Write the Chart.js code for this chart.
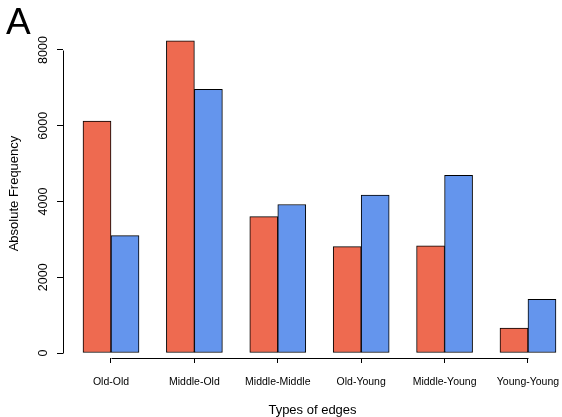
<!DOCTYPE html>
<html>
<head>
<meta charset="utf-8">
<script src="https://cdn.jsdelivr.net/npm/chart.js@4/dist/chart.umd.min.js"></script>
<style>
    body { margin: 0; background: #fff; }
    #wrap { position: relative; width: 562px; height: 417px; }
    #panel {
        position: absolute; left: 6px; top: 3px;
        font: 37px "Liberation Sans", Arial, sans-serif; line-height: 1; color: #000;
    }
</style>
</head>
<body>
<div id="wrap">
    <canvas id="chart" width="562" height="417"></canvas>
    <div id="panel">A</div>
</div>
<script>
let edgeTypes = ["Old-Old", "Middle-Old", "Middle-Middle", "Old-Young", "Middle-Young", "Young-Young"];
let seriesRed = [6120, 8240, 3600, 2810, 2830, 660];
let seriesBlue = [3100, 6960, 3920, 4170, 4690, 1420];
let yTicks = [0, 2000, 4000, 6000, 8000];

let fontFamily = '"Liberation Sans", Arial, sans-serif';

function toPoints(values) {
    return values.map((v, i) => ({ x: i, y: v }));
}

// R style axis lines: only from first to last tick
let axisLines = {
    id: "axisLines",
    afterDraw(chart) {
        let ctx = chart.ctx,
            xs = chart.scales.x,
            ys = chart.scales.y,
            area = chart.chartArea;
        ctx.save();
        ctx.strokeStyle = "#000";
        ctx.lineWidth = 1;
        ctx.beginPath();
        let lx = Math.round(area.left) + 0.5;
        ctx.moveTo(lx, Math.round(ys.getPixelForValue(yTicks[0])) + 0.5);
        ctx.lineTo(lx, Math.round(ys.getPixelForValue(yTicks[yTicks.length - 1])) + 0.5);
        let by = Math.round(area.bottom) + 0.5;
        ctx.moveTo(Math.round(xs.getPixelForValue(0)) + 0.5, by);
        ctx.lineTo(Math.round(xs.getPixelForValue(edgeTypes.length - 1)) + 0.5, by);
        ctx.stroke();
        ctx.restore();
    }
};

let barStyle = { borderColor: "#000", borderWidth: 1, borderSkipped: false, barThickness: 28 };

new Chart(document.getElementById("chart"), {
    type: "bar",
    data: {
        datasets: [
            Object.assign({ data: toPoints(seriesRed), backgroundColor: "#EE6A50" }, barStyle),
            Object.assign({ data: toPoints(seriesBlue), backgroundColor: "#6495ED" }, barStyle)
        ]
    },
    options: {
        responsive: false,
        devicePixelRatio: 1,
        animation: false,
        layout: { padding: { left: 0, right: 0, top: 29, bottom: 0 } },
        plugins: { legend: { display: false }, tooltip: { enabled: false } },
        scales: {
            x: {
                type: "linear",
                offset: false,
                min: -0.5755,
                max: 5.408,
                afterBuildTicks: s => { s.ticks = edgeTypes.map((_, i) => ({ value: i })); },
                afterFit: s => { s.height = 59; s.paddingLeft = 0; s.paddingRight = 0; },
                border: { display: false },
                grid: { offset: false, drawOnChartArea: false, drawTicks: true, tickLength: 5, color: "#000" },
                ticks: {
                    autoSkip: false, maxRotation: 0, padding: 13, color: "#000",
                    font: { family: fontFamily, size: 10.5 },
                    callback: v => edgeTypes[v]
                },
                title: {
                    display: true, text: "Types of edges", color: "#000",
                    font: { family: fontFamily, size: 13, lineHeight: 0.9 }, padding: { top: 0, bottom: 1 }
                }
            },
            y: {
                min: -132,
                max: 8554,
                afterBuildTicks: s => { s.ticks = yTicks.map(v => ({ value: v })); },
                afterFit: s => { s.width = 63; s.paddingTop = 0; s.paddingBottom = 0; },
                border: { display: false },
                grid: { drawOnChartArea: false, drawTicks: true, tickLength: 6, color: "#000" },
                ticks: {
                    minRotation: 90, maxRotation: 90, crossAlign: "center", padding: 0,
                    color: "#000", font: { family: fontFamily, size: 12.5 },
                    callback: v => String(v)
                },
                title: {
                    display: true, text: "Absolute Frequency", color: "#000",
                    font: { family: fontFamily, size: 13 }, padding: { top: 7, bottom: 0 }
                }
            }
        }
    },
    plugins: [axisLines]
});
</script>
</body>
</html>
